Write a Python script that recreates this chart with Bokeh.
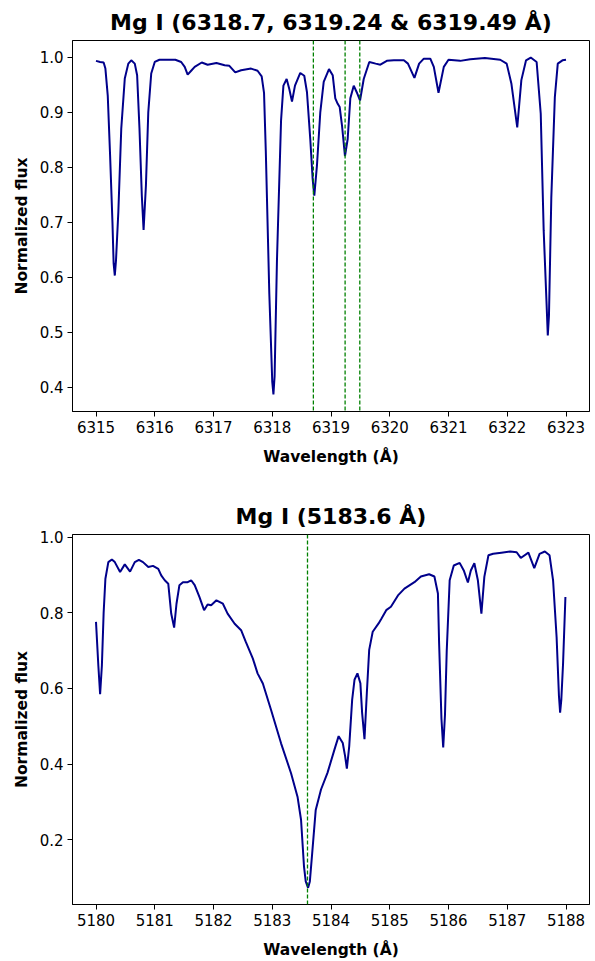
from bokeh.plotting import figure
from bokeh.layouts import column
from bokeh.models import Span, FixedTicker, PrintfTickFormatter
from bokeh.embed import file_html
from bokeh.resources import INLINE

# ---------------- data ----------------
top_title = "Mg I (6318.7, 6319.24 & 6319.49 Å)"
top_wl = [6315.00, 6315.07, 6315.13, 6315.16, 6315.20, 6315.24, 6315.28, 6315.30, 6315.32, 6315.34,
          6315.38, 6315.43, 6315.49, 6315.55, 6315.60, 6315.66, 6315.70, 6315.74, 6315.78, 6315.81,
          6315.85, 6315.89, 6315.94, 6316.00, 6316.08, 6316.20, 6316.35, 6316.45, 6316.51, 6316.56,
          6316.62, 6316.68, 6316.80, 6316.90, 6317.05, 6317.19, 6317.27, 6317.37, 6317.47, 6317.64,
          6317.75, 6317.82, 6317.86, 6317.89, 6317.95, 6318.00, 6318.02, 6318.04, 6318.08, 6318.15,
          6318.19, 6318.245, 6318.29, 6318.336, 6318.387, 6318.477, 6318.545, 6318.591, 6318.647, 6318.688,
          6318.716, 6318.761, 6318.818, 6318.876, 6318.966, 6319.029, 6319.073, 6319.114, 6319.148, 6319.187,
          6319.238, 6319.284, 6319.329, 6319.387, 6319.438, 6319.494, 6319.557, 6319.652, 6319.76, 6319.84,
          6319.95, 6320.07, 6320.24, 6320.31, 6320.42, 6320.50, 6320.58, 6320.69, 6320.75, 6320.83,
          6320.92, 6321.00, 6321.20, 6321.37, 6321.62, 6321.88, 6321.99, 6322.07, 6322.17, 6322.24,
          6322.32, 6322.40, 6322.50, 6322.57, 6322.62, 6322.67, 6322.69, 6322.71, 6322.75, 6322.81,
          6322.86, 6322.94, 6323.00]
top_flux = [0.993, 0.991, 0.990, 0.979, 0.930, 0.821, 0.700, 0.625, 0.603, 0.630,
            0.718, 0.870, 0.961, 0.988, 0.994, 0.988, 0.967, 0.870, 0.748, 0.686,
            0.767, 0.900, 0.970, 0.991, 0.995, 0.995, 0.995, 0.991, 0.982, 0.968,
            0.975, 0.982, 0.990, 0.986, 0.989, 0.985, 0.984, 0.972, 0.976, 0.979,
            0.975, 0.965, 0.935, 0.830, 0.570, 0.410, 0.387, 0.420, 0.630, 0.885,
            0.948, 0.960, 0.942, 0.919, 0.948, 0.971, 0.966, 0.936, 0.851, 0.778,
            0.748, 0.803, 0.900, 0.955, 0.978, 0.967, 0.925, 0.915, 0.909, 0.876,
            0.820, 0.851, 0.925, 0.948, 0.936, 0.921, 0.960, 0.991, 0.988, 0.986,
            0.993, 0.994, 0.994, 0.988, 0.962, 0.988, 0.997, 0.997, 0.982, 0.935,
            0.982, 0.995, 0.993, 0.996, 0.998, 0.995, 0.988, 0.952, 0.872, 0.958,
            0.994, 0.999, 0.991, 0.897, 0.685, 0.550, 0.494, 0.530, 0.745, 0.927,
            0.988, 0.994, 0.995]
top_lines = [6318.7, 6319.24, 6319.49]
top_xticks = [6315, 6316, 6317, 6318, 6319, 6320, 6321, 6322, 6323]
top_yticks = [0.4, 0.5, 0.6, 0.7, 0.8, 0.9, 1.0]

bot_title = "Mg I (5183.6 Å)"
bot_wl = [5180.00, 5180.04, 5180.07, 5180.10, 5180.13, 5180.16, 5180.21, 5180.27, 5180.32, 5180.41,
          5180.49, 5180.58, 5180.66, 5180.73, 5180.80, 5180.89, 5180.97, 5181.06, 5181.11, 5181.17,
          5181.23, 5181.28, 5181.33, 5181.37, 5181.42, 5181.48, 5181.56, 5181.62, 5181.68, 5181.76,
          5181.84, 5181.90, 5181.96, 5182.05, 5182.16, 5182.24, 5182.36, 5182.47, 5182.55, 5182.67,
          5182.75, 5182.84, 5182.98, 5183.15, 5183.32, 5183.43, 5183.49, 5183.54, 5183.57, 5183.61,
          5183.64, 5183.68, 5183.74, 5183.83, 5183.94, 5184.06, 5184.13, 5184.20, 5184.24, 5184.27,
          5184.31, 5184.36, 5184.40, 5184.45, 5184.50, 5184.53, 5184.57, 5184.61, 5184.65, 5184.71,
          5184.81, 5184.86, 5184.94, 5185.02, 5185.14, 5185.25, 5185.42, 5185.53, 5185.67, 5185.76,
          5185.82, 5185.84, 5185.88, 5185.91, 5185.94, 5185.97, 5186.02, 5186.09, 5186.19, 5186.26,
          5186.33, 5186.38, 5186.44, 5186.50, 5186.56, 5186.61, 5186.68, 5186.76, 5186.90, 5187.05,
          5187.16, 5187.23, 5187.36, 5187.46, 5187.55, 5187.64, 5187.72, 5187.78, 5187.84, 5187.88,
          5187.90, 5187.92, 5187.95, 5187.99]
bot_flux = [0.776, 0.660, 0.585, 0.660, 0.800, 0.890, 0.934, 0.941, 0.934, 0.908,
            0.928, 0.909, 0.934, 0.940, 0.934, 0.921, 0.924, 0.916, 0.899, 0.886,
            0.877, 0.798, 0.761, 0.824, 0.873, 0.881, 0.881, 0.886, 0.873, 0.842,
            0.807, 0.822, 0.820, 0.833, 0.824, 0.798, 0.771, 0.754, 0.723, 0.679,
            0.640, 0.613, 0.543, 0.455, 0.376, 0.314, 0.253, 0.130, 0.090, 0.073,
            0.090, 0.165, 0.279, 0.333, 0.377, 0.439, 0.474, 0.456, 0.421, 0.388,
            0.447, 0.570, 0.623, 0.640, 0.614, 0.535, 0.466, 0.588, 0.702, 0.750,
            0.772, 0.785, 0.807, 0.816, 0.846, 0.864, 0.881, 0.896, 0.902, 0.896,
            0.851, 0.720, 0.520, 0.444, 0.530, 0.700, 0.886, 0.925, 0.932, 0.912,
            0.880, 0.912, 0.931, 0.886, 0.798, 0.895, 0.952, 0.956, 0.959, 0.962,
            0.960, 0.945, 0.959, 0.918, 0.956, 0.962, 0.952, 0.886, 0.736, 0.580,
            0.536, 0.570, 0.666, 0.842]
bot_lines = [5183.6]
bot_xticks = [5180, 5181, 5182, 5183, 5184, 5185, 5186, 5187, 5188]
bot_yticks = [0.2, 0.4, 0.6, 0.8, 1.0]

FONT = "DejaVu Sans"
LINE_COLOR = "#00008B"


def make_panel(title, wl, fl, lines, xr, yr, xticks, yticks, height, border_bottom):
    p = figure(width=592, height=height, x_range=xr, y_range=yr,
               output_backend="svg", toolbar_location=None,
               min_border_left=72, min_border_right=3, min_border_top=40,
               min_border_bottom=border_bottom)
    p.title.text = title
    p.title.align = "center"
    p.title.text_font = FONT
    p.title.text_font_size = "22px"
    p.title.text_font_style = "bold"
    p.title.text_color = "black"
    p.title.standoff = 12

    p.line(wl, fl, line_color=LINE_COLOR, line_width=2)
    for loc in lines:
        p.add_layout(Span(location=loc, dimension="height", line_color="#008000",
                          line_width=1.3, line_dash="4 2"))

    p.grid.visible = False
    p.outline_line_color = "black"
    p.outline_line_width = 1
    p.background_fill_color = "white"
    p.border_fill_color = "white"

    p.xaxis.ticker = FixedTicker(ticks=xticks)
    p.xaxis.formatter = PrintfTickFormatter(format="%d")
    p.yaxis.ticker = FixedTicker(ticks=yticks)
    p.yaxis.formatter = PrintfTickFormatter(format="%.1f")
    for ax in (p.xaxis, p.yaxis):
        ax.axis_line_color = "black"
        ax.major_tick_line_color = "black"
        ax.major_tick_out = 5
        ax.major_tick_in = 0
        ax.minor_tick_line_color = None
        ax.major_label_text_font = FONT
        ax.major_label_text_font_size = "15px"
        ax.major_label_text_color = "black"
        ax.axis_label_text_font = FONT
        ax.axis_label_text_font_size = "15.5px"
        ax.axis_label_text_font_style = "bold"
        ax.axis_label_text_color = "black"
    p.xaxis.axis_label = "Wavelength (Å)"
    p.yaxis.axis_label = "Normalized flux"
    p.xaxis.major_label_standoff = 4
    p.xaxis.axis_label_standoff = 12
    p.yaxis.major_label_standoff = 4
    p.yaxis.axis_label_standoff = 6
    return p


p1 = make_panel(top_title, top_wl, top_flux, top_lines, (6314.6, 6323.4), (0.356, 1.030),
                top_xticks, top_yticks, 494, 83)
p2 = make_panel(bot_title, bot_wl, bot_flux, bot_lines, (5179.6, 5188.4), (0.029, 1.007),
                bot_xticks, bot_yticks, 467, 56)

layout = column(p1, p2)
open("out.html", "w").write(file_html(layout, INLINE))
